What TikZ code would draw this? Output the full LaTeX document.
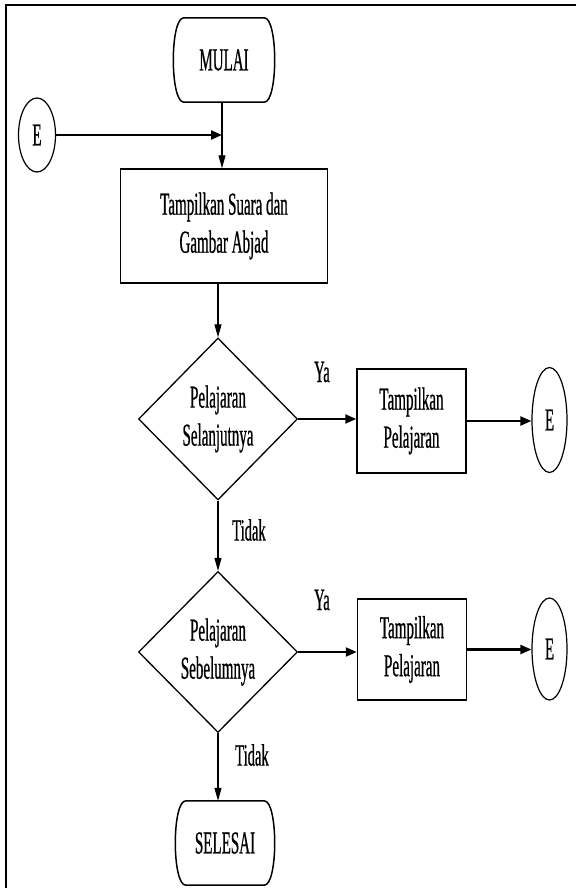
\documentclass[tikz,border=0pt]{standalone}
\usepackage{fontspec}
\setmainfont{Liberation Serif}[FakeStretch=0.47,FakeBold=0.6]
\usetikzlibrary{shapes.geometric,arrows.meta}
\begin{document}
\begin{tikzpicture}[x=1pt,y=-1pt,
  txt/.style={font=\fontsize{32}{38}\selectfont, align=center, inner sep=0pt, text=black},
  box/.style={txt, draw, line width=1.5pt, rectangle},
  dec/.style={txt, draw, line width=1.3pt, diamond},
  conn/.style={txt, draw, line width=1.2pt, ellipse},
  term/.style={txt, minimum width=104pt, minimum height=84pt},
  termline/.style={line width=1.5pt},
  thinarrow/.style={line width=1.1pt, -{Triangle[length=13pt,width=7pt]}},
  thickarrow/.style={line width=2.2pt, -{Triangle[length=11pt,width=9pt]}},
  lbl/.style={font=\fontsize{31}{32}\selectfont, inner sep=0pt}
]
\useasboundingbox (0,0) rectangle (576,888);
\fill[white] (0,0) rectangle (576,888);
% frame (top and left edges visible)
\draw[line width=2pt] (6,888) -- (6,5) -- (576,5);

% nodes
\node[term] (mulai) at (224,60) {MULAI};
\draw[termline] ([xshift=12pt]mulai.north west) -- ([xshift=-12pt]mulai.north east)
  .. controls ([xshift=2pt]mulai.north east) and ([xshift=2pt]mulai.south east) .. ([xshift=-12pt]mulai.south east)
  -- ([xshift=12pt]mulai.south west)
  .. controls ([xshift=-2pt]mulai.south west) and ([xshift=-2pt]mulai.north west) .. cycle;

\node[conn, minimum width=37pt, minimum height=74pt] (eL) at (37,135) {E};
\coordinate (J) at (222,135);

\node[box, minimum width=207pt, minimum height=114pt] (r1) at (224,226) {Tampilkan Suara dan\\Gambar Abjad};

\node[dec, minimum width=159pt, minimum height=162pt] (d1) at (218,419) {Pelajaran\\Selanjutnya};
\node[box, minimum width=109pt, minimum height=104pt] (r2) at (411.5,421) {Tampilkan\\Pelajaran};
\node[conn, minimum width=35pt, minimum height=105pt] (e2) at (549.5,420) {E};

\node[dec, minimum width=159pt, minimum height=161pt] (d2) at (218,652) {Pelajaran\\Sebelumnya};
\node[box, minimum width=109pt, minimum height=101pt] (r3) at (412,649.5) {Tampilkan\\Pelajaran};
\node[conn, minimum width=35pt, minimum height=102pt] (e3) at (549.5,649) {E};

\node[term, minimum width=102pt] (sel) at (225,843) {SELESAI};
\draw[termline] ([xshift=12pt]sel.north west) -- ([xshift=-12pt]sel.north east)
  .. controls ([xshift=2pt]sel.north east) and ([xshift=2pt]sel.south east) .. ([xshift=-12pt]sel.south east)
  -- ([xshift=12pt]sel.south west)
  .. controls ([xshift=-2pt]sel.south west) and ([xshift=-2pt]sel.north west) .. cycle;

% labels
\node[lbl] (ya1) at (322,372) {Ya};
\node[lbl] (ya2) at (322,600) {Ya};
\node[lbl] (t1) at (249,530) {Tidak};
\node[lbl] (t2) at (252,755) {Tidak};

% connectors
\draw[thinarrow] (J |- mulai.south) -- (J |- r1.north);
\draw[thickarrow] (eL.east) -- (J);
\draw[thinarrow] (r1.south -| d1.north) -- (d1.north);
\draw[thickarrow] (d1.east) -- (d1.east -| r2.west);
\draw[thickarrow] (r2.east) -- (r2.east -| e2.west);
\draw[thinarrow] (d1.south) -- (d2.north);
\draw[thickarrow] (d2.east) -- (d2.east -| r3.west);
\draw[thickarrow] (r3.east) -- (r3.east -| e3.west);
\draw[thinarrow] (d2.south) -- (d2.south |- sel.north);
\end{tikzpicture}
\end{document}
